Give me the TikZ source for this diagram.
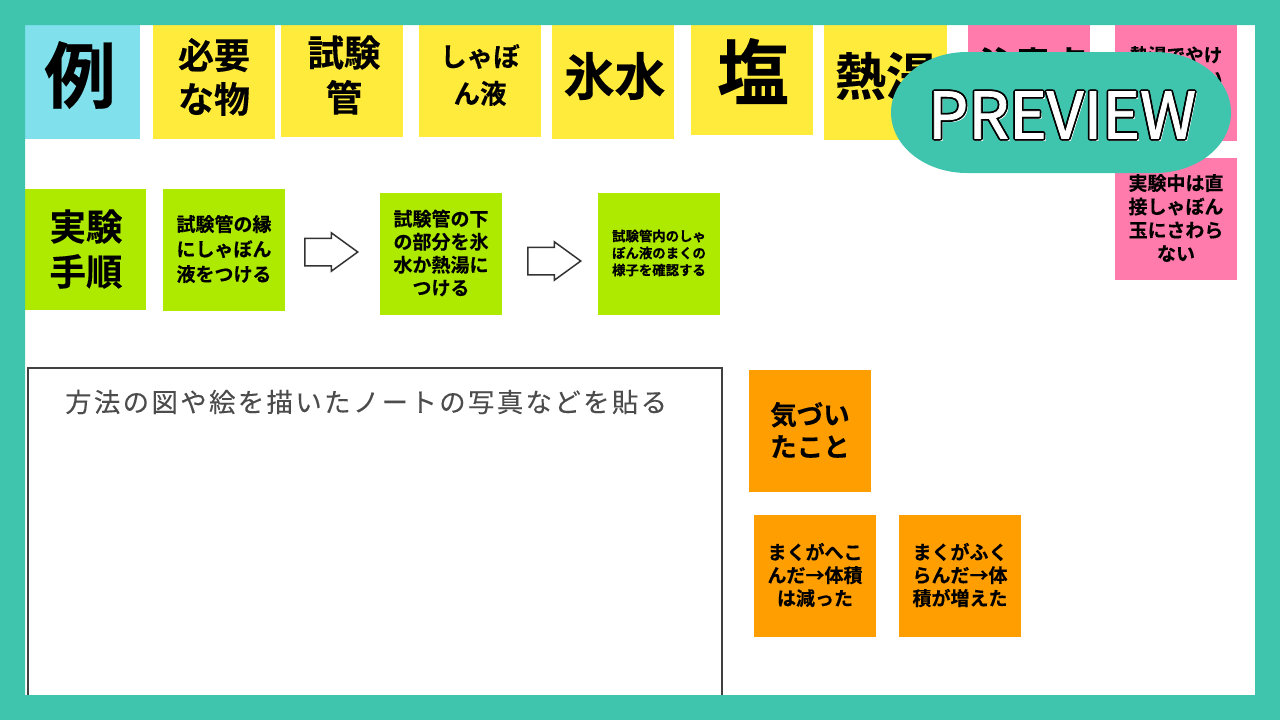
\documentclass[tikz,border=0pt]{standalone}
\usepackage{fontspec}
\usetikzlibrary{shapes.arrows}
\newfontfamily\jpbold[FakeBold=0.25]{Noto Sans CJK JP Bold}
\newfontfamily\jpreg[LetterSpace=9,FakeBold=0.1]{Noto Sans CJK JP}
\newfontfamily\prevfont[FakeBold=1.2]{Noto Sans CJK JP}
\definecolor{frametal}{HTML}{3FC4AE}
\definecolor{notecyan}{HTML}{80E0EC}
\definecolor{noteyellow}{HTML}{FFEB3B}
\definecolor{notepink}{HTML}{FF7BAC}
\definecolor{notegreen}{HTML}{AEEA00}
\definecolor{noteorange}{HTML}{FF9E00}
\tikzset{
  note/.style={inner sep=0pt,align=center,text=black},
  blockarrow/.style={single arrow,draw=black!80,fill=white,line width=1.5pt,inner xsep=0pt,inner ysep=13pt,
    minimum height=53pt,single arrow head extend=5.5pt,single arrow tip angle=72,anchor=tail},
  prevtext/.style={inner sep=0pt,font=\prevfont\fontsize{64}{68}\selectfont},
}
\newcommand{\jpsize}[2]{\jpbold\fontsize{#1}{#2}\selectfont}
\begin{document}
\begin{tikzpicture}[x=1pt,y=-1pt]
        \useasboundingbox (0,0) rectangle (1280,720);
        \fill[white] (0,0) rectangle (1280,720);
        % top row
        \fill[notecyan] (25,25) rectangle (140,139);
        \node[note,font=\jpsize{72}{80}] (rei) at (80,75) {例};
        \fill[noteyellow] (153,25) rectangle (275,139);
        \node[note,font=\jpsize{36}{44}] (hitsuyou) at (214,77) {必要\\な物};
        \fill[noteyellow] (281,25) rectangle (403,137);
        \node[note,font=\jpsize{36.5}{45}] (shikenkan) at (344,75) {試験\\管};
        \fill[noteyellow] (419,25) rectangle (541,137);
        \node[note,font=\jpsize{26.5}{37}] (ekitai) at (480,75) {しゃぼ\\ん液};
        \fill[noteyellow] (552,25) rectangle (674,139);
        \node[note,font=\jpsize{51}{56}] (koori) at (614.5,76) {氷水};
        \fill[noteyellow] (691,25) rectangle (813,135);
        \node[note,font=\jpsize{72}{80}] (shio) at (753,71) {塩};
        \fill[noteyellow] (824,25) rectangle (947,140);
        \node[note,font=\jpsize{51}{56}] (nettou) at (886,76) {熱湯};
        \fill[notepink] (968,25) rectangle (1090,140);
        \node[note,font=\jpsize{36}{40},anchor=north] (chuui) at (1033,47) {注意点};
        \fill[notepink] (1115,25) rectangle (1237,141);
        \node[note,font=\jpsize{18.5}{23},anchor=north] (yakedo) at (1176,46) {熱湯でやけ\\どをしない};
        \fill[notepink] (1115,158) rectangle (1237,280);
        \node[note,font=\jpsize{19}{23.5}] (jikkenchuu) at (1176,218) {実験中は直\\接しゃぼん\\玉にさわら\\ない};
        % procedure row
        \fill[notegreen] (25,189) rectangle (146,310);
        \node[note,font=\jpsize{36.5}{45}] (tejun) at (86,249) {実験\\手順};
        \fill[notegreen] (163,189) rectangle (285,311);
        \node[note,font=\jpsize{19}{25}] (step1) at (224,249) {試験管の縁\\にしゃぼん\\液をつける};
        \fill[notegreen] (380,193) rectangle (502,315);
        \node[note,font=\jpsize{19}{23}] (step2) at (441,253) {試験管の下\\の部分を氷\\水か熱湯に\\つける};
        \fill[notegreen] (598,193) rectangle (720,315);
        \node[note,font=\jpsize{13.4}{17}] (step3) at (659,253) {試験管内のしゃ\\ぼん液のまくの\\様子を確認する};
        \node[blockarrow] (arrow1) at (304,252) {};
        \node[blockarrow] (arrow2) at (527,261) {};
        % photo box
        \draw[black!75,line width=1.5pt] (28,368) rectangle (722,720);
        \node[anchor=west,inner sep=0pt,text=black!70,font=\jpreg\fontsize{26.4}{30}\selectfont] (hint) at (65,402) {方法の図や絵を描いたノートの写真などを貼る};
        % notes on the right
        \fill[noteorange] (749,370) rectangle (871,492);
        \node[note,font=\jpsize{26.5}{32}] (kizuki) at (810,430) {気づい\\たこと};
        \fill[noteorange] (754,515) rectangle (876,637);
        \node[note,font=\jpsize{19}{23}] (hekomu) at (815,575) {まくがへこ\\んだ→体積\\は減った};
        \fill[noteorange] (899,515) rectangle (1021,637);
        \node[note,font=\jpsize{19}{23}] (fukuramu) at (960,575) {まくがふく\\らんだ→体\\積が増えた};
        % frame and preview mark
        \fill[frametal,even odd rule] (0,0) rectangle (1280,720) (25,25) rectangle (1255,695);
        \fill[frametal] (967,52) -- (1155,52) .. controls (1197,52) and (1231,79) .. (1231,112.5)
          .. controls (1231,146) and (1197,173) .. (1155,173) -- (967,173)
          .. controls (925,173) and (891,146) .. (891,112.5) .. controls (891,79) and (925,52) .. (967,52) -- cycle;
        \node[prevtext,text=white] (prevshine) at (1064,117) {PREVIEW};
        \foreach \dx/\dy [count=\i] in {-1.8/0,1.8/0,0/-1.8,0/1.8,-1.3/-1.3,1.3/-1.3,-1.3/1.3,1.3/1.3}
          \node[prevtext,text=black] (prevshadow\i) at (1062+\dx,115+\dy) {PREVIEW};
        \node[prevtext,text=white] (preview) at (1062,115) {PREVIEW};
    \end{tikzpicture}
\end{document}
